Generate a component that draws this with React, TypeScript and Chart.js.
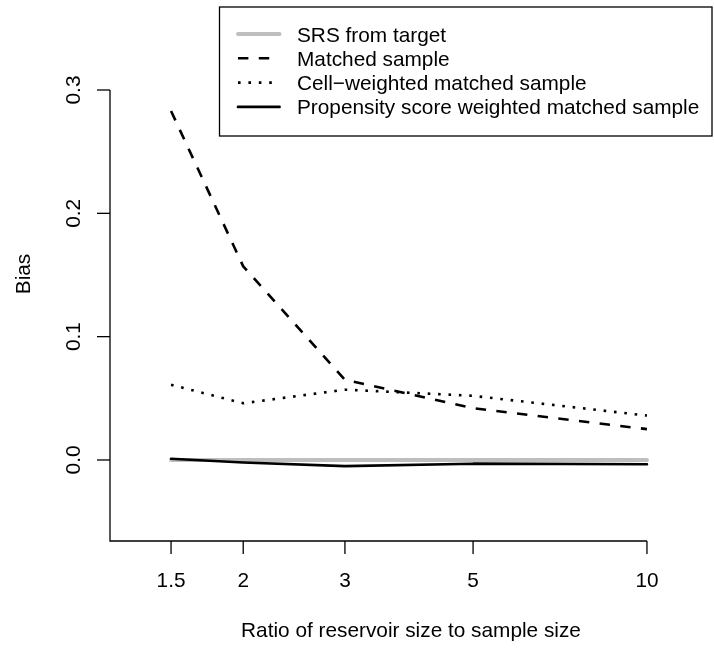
import React, { useEffect, useRef } from "react";
import { Chart, registerables } from "chart.js";

Chart.register(...registerables);

// ---- data ----
const ratios = [1.5, 2, 3, 5, 10];
const xTickLabels = ["1.5", "2", "3", "5", "10"];
const yTickValues = [0, 0.1, 0.2, 0.3];
const yTickLabels = ["0.0", "0.1", "0.2", "0.3"];

const srsBias = [0.0, 0.0, 0.0, 0.0, 0.0];
const matchedBias = [0.283, 0.157, 0.065, 0.042, 0.025];
const cellWeightedBias = [0.061, 0.046, 0.057, 0.052, 0.036];
const propensityBias = [0.001, -0.002, -0.005, -0.003, -0.0035];

const seriesLabels = [
  "SRS from target",
  "Matched sample",
  "Cell\u2212weighted matched sample",
  "Propensity score weighted matched sample",
];
const xTitle = "Ratio of reservoir size to sample size";
const yTitle = "Bias";

const FONT = '20.8px "Liberation Sans", Arial, Helvetica, sans-serif';

const seriesStyles = [
  { color: "#BEBEBE", width: 3.9, dash: [] as number[], cap: "round" as CanvasLineCap },
  { color: "#000000", width: 2.6, dash: [10.4, 10.4], cap: "butt" as CanvasLineCap },
  { color: "#000000", width: 2.6, dash: [2.6, 7.8], cap: "butt" as CanvasLineCap },
  { color: "#000000", width: 2.6, dash: [] as number[], cap: "round" as CanvasLineCap },
];

const toPoints = (ys: number[]) => ratios.map((x, i) => ({ x, y: ys[i] }));

const decorPlugin = {
  id: "rBaseDecor",
  afterDraw(chart: any) {
    const ctx: CanvasRenderingContext2D = chart.ctx;
    const xs = chart.scales.x;
    const ys = chart.scales.y;
    const area = chart.chartArea;
    const tick = 13;
    ctx.save();
    ctx.strokeStyle = "#000";
    ctx.lineWidth = 1.3;
    ctx.lineCap = "butt";
    ctx.lineJoin = "miter";
    // L-shaped axes
    const left = area.left;
    const bottom = area.bottom;
    ctx.beginPath();
    ctx.moveTo(left, ys.getPixelForValue(yTickValues[yTickValues.length - 1]));
    ctx.lineTo(left, bottom);
    ctx.lineTo(xs.getPixelForValue(ratios[ratios.length - 1]), bottom);
    ctx.stroke();
    // x ticks
    ctx.fillStyle = "#000";
    ctx.font = FONT;
    ctx.textAlign = "center";
    ctx.textBaseline = "alphabetic";
    ratios.forEach((v, i) => {
      const px = xs.getPixelForValue(v);
      ctx.beginPath();
      ctx.moveTo(px, bottom);
      ctx.lineTo(px, bottom + tick);
      ctx.stroke();
      ctx.fillText(xTickLabels[i], px, bottom + 46);
    });
    // y ticks
    yTickValues.forEach((v, i) => {
      const py = ys.getPixelForValue(v);
      ctx.beginPath();
      ctx.moveTo(left, py);
      ctx.lineTo(left - tick, py);
      ctx.stroke();
      ctx.save();
      ctx.translate(left - 30, py);
      ctx.rotate(-Math.PI / 2);
      ctx.fillText(yTickLabels[i], 0, 0);
      ctx.restore();
    });
    // titles
    ctx.fillText(xTitle, (area.left + area.right) / 2, bottom + 96);
    ctx.save();
    ctx.translate(left - 80, (area.top + area.bottom) / 2);
    ctx.rotate(-Math.PI / 2);
    ctx.fillText(yTitle, 0, 0);
    ctx.restore();

    // legend
    const bx = 219.5, by = 7, bw = 492.5, bh = 129;
    ctx.lineWidth = 1.3;
    ctx.strokeStyle = "#000";
    ctx.strokeRect(bx, by, bw, bh);
    const rowY0 = 34;
    const rowStep = 24.3;
    ctx.textAlign = "left";
    seriesLabels.forEach((lab, i) => {
      const ry = rowY0 + i * rowStep;
      const st = seriesStyles[i];
      ctx.save();
      ctx.strokeStyle = st.color;
      ctx.lineWidth = st.width;
      ctx.lineCap = st.cap;
      ctx.setLineDash(st.dash);
      ctx.beginPath();
      ctx.moveTo(238, ry);
      ctx.lineTo(279.6, ry);
      ctx.stroke();
      ctx.restore();
      ctx.fillText(lab, 297, ry + 7.5);
    });
    ctx.restore();
  },
};

export default function App() {
  const ref = useRef<HTMLCanvasElement | null>(null);
  useEffect(() => {
    if (!ref.current) return;
    const allSeries = [srsBias, matchedBias, cellWeightedBias, propensityBias];
    const datasets = allSeries.map((s, i) => ({
      label: seriesLabels[i],
      data: toPoints(s),
      borderColor: seriesStyles[i].color,
      borderWidth: seriesStyles[i].width,
      borderDash: seriesStyles[i].dash,
      borderCapStyle: seriesStyles[i].cap,
      borderJoinStyle: "round" as CanvasLineJoin,
      pointRadius: 0,
      tension: 0,
      fill: false,
      order: i === 0 ? 10 : 4 - i,
    }));
    const chart = new Chart(ref.current, {
      type: "line",
      data: { datasets },
      options: {
        responsive: false,
        animation: false,
        devicePixelRatio: 1,
        layout: { padding: { left: 110, top: 7, right: 2, bottom: 107 } },
        plugins: { legend: { display: false }, tooltip: { enabled: false } },
        events: [],
        scales: {
          x: { type: "logarithmic", display: false, min: 1.176, max: 12.96 },
          y: { type: "linear", display: false, min: -0.0657, max: 0.3673 },
        },
      },
      plugins: [decorPlugin],
    });
    return () => chart.destroy();
  }, []);
  return (
    <div style={{ position: "absolute", left: 0, top: 0, width: 714, height: 648, background: "#fff" }}>
      <canvas ref={ref} width={714} height={648} style={{ width: 714, height: 648, display: "block" }} />
    </div>
  );
}
